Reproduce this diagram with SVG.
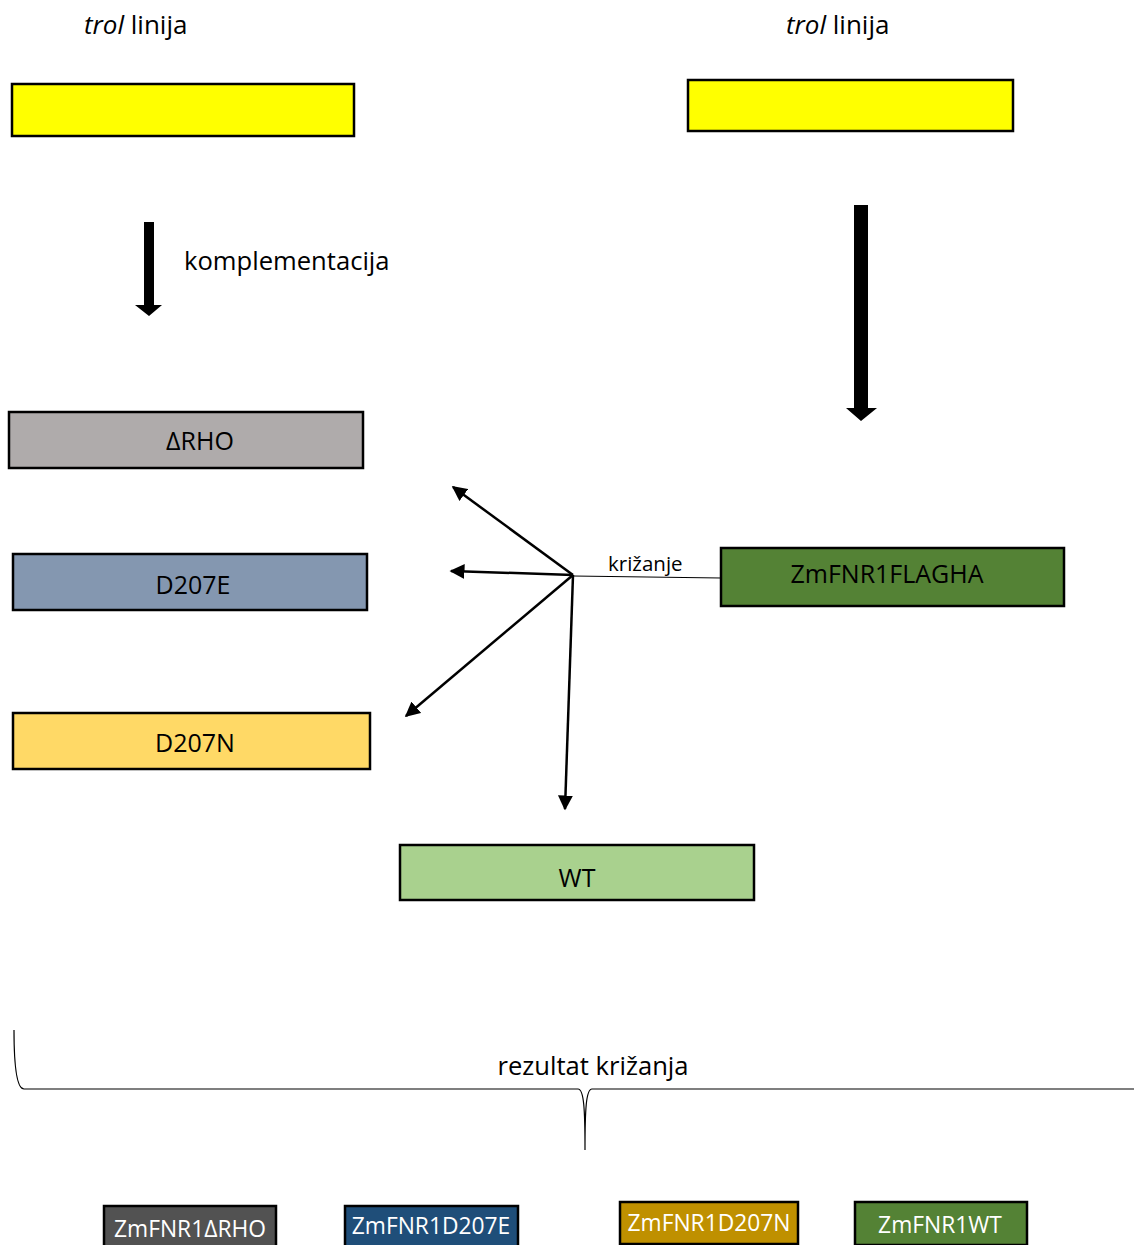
<svg xmlns="http://www.w3.org/2000/svg" width="1134" height="1245" viewBox="0 0 1134 1245">
<style>
text{font-family:"Open Sans","Noto Sans","Liberation Sans",sans-serif;fill:#000}
.box{stroke:#000;stroke-width:2.5}
.lbl{font-size:25px;text-anchor:middle}
.wl{font-size:22.8px;text-anchor:middle;fill:#fff}
.con{stroke:#000;stroke-width:2.5;fill:none}
</style>
<defs>
<marker id="ah" viewBox="0 0 10 10" refX="9" refY="5" markerWidth="6" markerHeight="6" markerUnits="strokeWidth" orient="auto">
<path d="M0,0 L10,5 L0,10 z" fill="#000"/>
</marker>
</defs>
<rect width="1134" height="1245" fill="#fff"/>
<text x="84" y="34" font-size="26"><tspan font-style="italic">trol</tspan> linija</text>
<text x="786" y="34" font-size="26"><tspan font-style="italic">trol</tspan> linija</text>
<g id="yellow-left"><rect class="box" x="12" y="84" width="342" height="52" fill="#ffff00"/></g>
<g id="yellow-right"><rect class="box" x="688" y="80" width="325" height="51" fill="#ffff00"/></g>
<g id="arrow-left"><path d="M144,222 H154 V305 H162 L149,316 L135,305 H144 Z" fill="#000"/></g>
<text x="184" y="270" font-size="25.6">komplementacija</text>
<g id="arrow-right"><path d="M854,205 H868 V408 H877 L861,421 L846,408 H854 Z" fill="#000"/></g>
<g id="n-rho"><rect class="box" x="9" y="412" width="354" height="56" fill="#afabab"/><text class="lbl" x="200" y="450">ΔRHO</text></g>
<g id="n-d207e"><rect class="box" x="13" y="554" width="354" height="56" fill="#8497b0"/><text class="lbl" x="193" y="594">D207E</text></g>
<g id="n-d207n"><rect class="box" x="13" y="713" width="357" height="56" fill="#ffd966"/><text class="lbl" x="195" y="752">D207N</text></g>
<g id="n-wt"><rect class="box" x="400" y="845" width="354" height="55" fill="#a9d18e"/><text class="lbl" x="577" y="887">WT</text></g>
<g id="n-flagha"><rect class="box" x="721" y="548" width="343" height="58" fill="#548235"/><text class="lbl" x="887" y="583">ZmFNR1FLAGHA</text></g>
<g id="connectors">
<line x1="573" y1="576" x2="721" y2="578" stroke="#000" stroke-width="1.2"/>
<line class="con" x1="573" y1="575" x2="453" y2="487" marker-end="url(#ah)"/>
<line class="con" x1="573" y1="575" x2="451" y2="571" marker-end="url(#ah)"/>
<line class="con" x1="573" y1="575" x2="406" y2="716" marker-end="url(#ah)"/>
<line class="con" x1="573" y1="575" x2="565" y2="809" marker-end="url(#ah)"/>
</g>
<text x="608" y="571" font-size="20.5">križanje</text>
<g id="brace"><path d="M14,1030 C14,1060 16,1089 24,1089 H578 C584,1089 585,1110 585,1150 C585,1110 586,1089 592,1089 H1134" fill="none" stroke="#000" stroke-width="1.2"/></g>
<text x="593" y="1075" font-size="25.6" text-anchor="middle">rezultat križanja</text>
<g id="r-rho"><rect class="box" x="104" y="1206" width="172" height="42" fill="#525252"/><text class="wl" x="190" y="1237">ZmFNR1ΔRHO</text></g>
<g id="r-d207e"><rect class="box" x="345" y="1206" width="173" height="42" fill="#1f4e79"/><text class="wl" x="431" y="1234">ZmFNR1D207E</text></g>
<g id="r-d207n"><rect class="box" x="620" y="1202" width="178" height="42" fill="#bf9000"/><text class="wl" x="709" y="1231">ZmFNR1D207N</text></g>
<g id="r-wt"><rect class="box" x="855" y="1202" width="172" height="43" fill="#548235"/><text class="wl" x="940" y="1233">ZmFNR1WT</text></g>
</svg>
